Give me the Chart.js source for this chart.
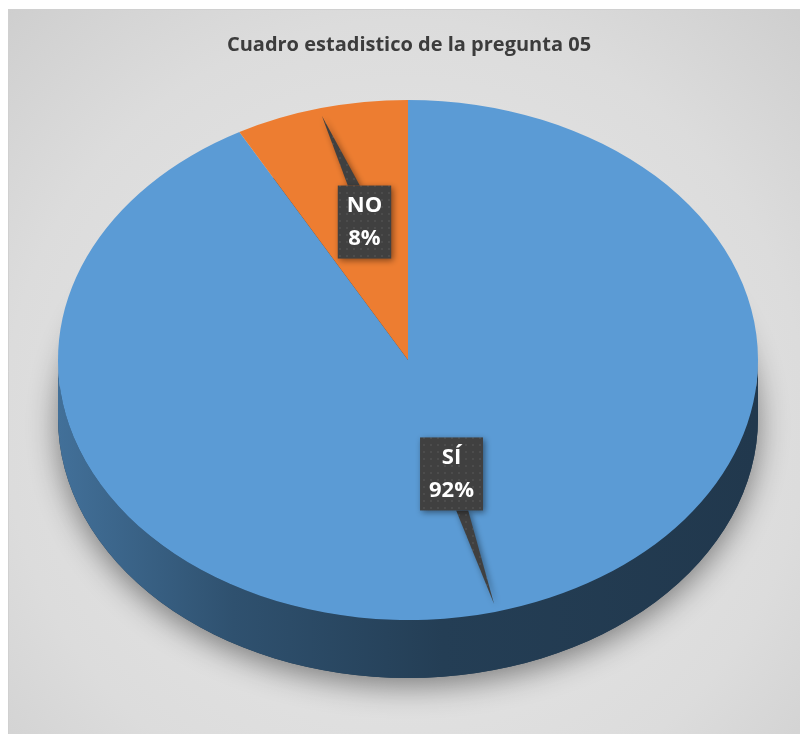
<!DOCTYPE html>
<html>
<head>
<meta charset="utf-8">
<script src="https://cdn.jsdelivr.net/npm/chart.js@4"></script>
<style>
  html, body { margin: 0; padding: 0; background: #fff; }
  #chart { display: block; }
</style>
</head>
<body>
<canvas id="chart" width="800" height="734"></canvas>
<script>
const chartTitle = 'Cuadro estadistico de la pregunta 05';
const categories = ['SÍ', 'NO'];
const percentages = [92, 8];
const sliceColors = ['#5b9bd5', '#ed7d31'];

const TILT = 0.743;   // vertical squash of the pie top
const DEPTH = 58;     // thickness of the 3d edge

function shade(hex, f) {
    const n = parseInt(hex.slice(1), 16);
    const r = Math.round(((n >> 16) & 255) * f);
    const g = Math.round(((n >> 8) & 255) * f);
    const b = Math.round((n & 255) * f);
    return `rgb(${r},${g},${b})`;
}

function dotPattern(ctx) {
    const c = document.createElement('canvas');
    c.width = 7; c.height = 7;
    const p = c.getContext('2d');
    p.fillStyle = '#404040';
    p.fillRect(0, 0, 7, 7);
    p.fillStyle = '#4c4c4c';
    p.fillRect(3, 3, 2, 2);
    return ctx.createPattern(c, 'repeat');
}

const pie3d = {
    id: 'pie3d',
    beforeDraw(chart) {
        const ctx = chart.ctx;
        ctx.save();
        ctx.fillStyle = '#ffffff';
        ctx.fillRect(0, 0, chart.width, chart.height);
        const bg = ctx.createRadialGradient(405, 420, 40, 405, 420, 640);
        bg.addColorStop(0, '#e8e8e8');
        bg.addColorStop(0.6, '#dcdcdc');
        bg.addColorStop(1, '#c9c9c9');
        ctx.fillStyle = bg;
        ctx.fillRect(8, 9, chart.width - 8, chart.height - 9);
        ctx.strokeStyle = '#d0d0d0';
        ctx.lineWidth = 1;
        ctx.beginPath();
        ctx.moveTo(8.5, chart.height);
        ctx.lineTo(8.5, 9.5);
        ctx.lineTo(chart.width, 9.5);
        ctx.stroke();

        ctx.fillStyle = '#3c3c3c';
        ctx.font = 'bold 20px "Open Sans", sans-serif';
        ctx.textAlign = 'center';
        ctx.textBaseline = 'middle';
        ctx.fillText(chartTitle, 409, 45);
        ctx.restore();
    },
    beforeDatasetsDraw(chart) {
        const ctx = chart.ctx;
        const arcs = chart.getDatasetMeta(0).data;
        const { x: cx, y: cy, outerRadius: r } = arcs[0];
        const ry = r * TILT;

        // soft shadow under the pie
        ctx.save();
        ctx.shadowColor = 'rgba(0,0,0,0.45)';
        ctx.shadowBlur = 30;
        ctx.shadowOffsetY = 8;
        ctx.fillStyle = shade(sliceColors[0], 0.38);
        ctx.beginPath();
        ctx.ellipse(cx, cy + DEPTH, r, ry, 0, 0, Math.PI * 2);
        ctx.fill();
        ctx.restore();

        // side walls of the front half
        arcs.forEach((arc, i) => {
            const base = sliceColors[i];
            const grad = ctx.createLinearGradient(cx - r, 0, cx + r, 0);
            grad.addColorStop(0, shade(base, 0.72));
            grad.addColorStop(0.25, shade(base, 0.52));
            grad.addColorStop(0.55, shade(base, 0.4));
            grad.addColorStop(1, shade(base, 0.36));
            [-2 * Math.PI, 0, 2 * Math.PI].forEach(off => {
                const a0 = Math.max(arc.startAngle + off, 0);
                const a1 = Math.min(arc.endAngle + off, Math.PI);
                if (a1 <= a0) return;
                ctx.fillStyle = grad;
                ctx.beginPath();
                ctx.ellipse(cx, cy, r, ry, 0, a0, a1, false);
                ctx.ellipse(cx, cy + DEPTH, r, ry, 0, a1, a0, true);
                ctx.closePath();
                ctx.fill();
            });
        });

        ctx.save();
        ctx.translate(cx, cy);
        ctx.scale(1, TILT);
        ctx.translate(-cx, -cy);
    },
    afterDatasetsDraw(chart) {
        chart.ctx.restore();
    },
    afterDraw(chart) {
        const ctx = chart.ctx;
        const arcs = chart.getDatasetMeta(0).data;
        const { x: cx, y: cy, outerRadius: r } = arcs[0];
        const fill = dotPattern(ctx);

        arcs.forEach((arc, i) => {
            const mid = (arc.startAngle + arc.endAngle) / 2;
            const ux = Math.cos(mid), uy = Math.sin(mid);
            const tip = { x: cx + ux * r * 0.99, y: cy + uy * r * TILT * 0.97 };
            const bx = cx + ux * r * 0.5, by = cy + uy * r * TILT * 0.5 - 12;

            const lines = [categories[i], percentages[i] + '%'];
            ctx.save();
            ctx.font = 'bold 22px "Open Sans", sans-serif';
            const w = Math.max(...lines.map(t => ctx.measureText(t).width)) + 18;
            const h = 73;
            const left = bx - w / 2, top = by - h / 2;

            const baseY = tip.y < by ? top : top + h;
            const baseX = bx + (tip.x - bx) * 0.25;

            ctx.shadowColor = 'rgba(0,0,0,0.45)';
            ctx.shadowBlur = 6;
            ctx.shadowOffsetX = 2;
            ctx.shadowOffsetY = 2;
            ctx.fillStyle = fill;
            ctx.beginPath();
            ctx.moveTo(baseX - 6, baseY);
            ctx.lineTo(tip.x, tip.y);
            ctx.lineTo(baseX + 6, baseY);
            ctx.closePath();
            ctx.fill();
            ctx.fillRect(left, top, w, h);

            ctx.shadowColor = 'transparent';
            ctx.fillStyle = '#ffffff';
            ctx.textAlign = 'center';
            ctx.textBaseline = 'middle';
            ctx.fillText(lines[0], bx, by - 16);
            ctx.fillText(lines[1], bx, by + 17);
            ctx.restore();
        });
    }
};

new Chart(document.getElementById('chart'), {
    type: 'pie',
    data: {
        labels: categories,
        datasets: [{
            data: percentages,
            backgroundColor: sliceColors,
            borderWidth: 0,
            clip: false
        }]
    },
    options: {
        responsive: false,
        animation: false,
        rotation: 0,
        layout: { padding: { left: 58, right: 42, top: 10, bottom: 24 } },
        plugins: {
            legend: { display: false },
            tooltip: { enabled: false },
            title: { display: false }
        }
    },
    plugins: [pie3d]
});
</script>
</body>
</html>
